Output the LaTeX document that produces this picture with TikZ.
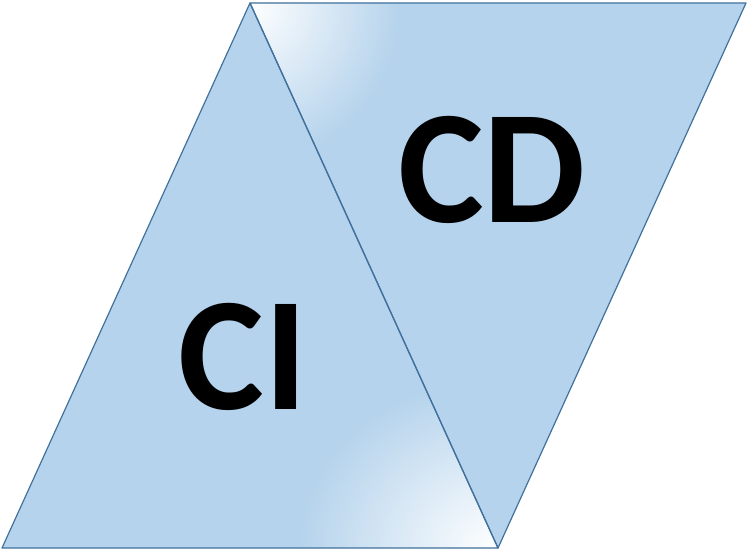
\documentclass[tikz,border=0pt]{standalone}
\usepackage{fontspec}
\setmainfont{Carlito}
\definecolor{paneblue}{RGB}{181,211,236}
\definecolor{edgeblue}{RGB}{65,113,156}

\begin{document}
\begin{tikzpicture}[
    x=1pt, y=-1pt,
    pane/.style={draw=edgeblue, line width=1.2pt, line join=round},
    label/.style={font=\bfseries\fontsize{162}{162}\selectfont, inner sep=0pt}
]
\useasboundingbox (0,0) rectangle (749,556);
\coordinate (bl) at (2,548);
\coordinate (top) at (250,3);
\coordinate (tr) at (746,3);
\coordinate (br) at (498,548);

% left triangle, light at bottom right corner
\fill[paneblue] (bl) -- (top) -- (br) -- cycle;
\begin{scope}
\clip (bl) -- (top) -- (br) -- cycle;
\shade[inner color=white, outer color=paneblue] (br) ellipse (200 and 170);
\end{scope}

% right triangle, light at top left corner
\fill[paneblue] (top) -- (tr) -- (br) -- cycle;
\begin{scope}
\clip (top) -- (tr) -- (br) -- cycle;
\shade[inner color=white, outer color=paneblue] (top) ellipse (150 and 160);
\end{scope}

\draw[pane] (bl) -- (top) -- (br) -- cycle;
\draw[pane] (top) -- (tr) -- (br) -- cycle;

\node[label] (cd) at (492,170) {CD};
\node[label] (ci) at (243,357) {CI};
\end{tikzpicture}
\end{document}
